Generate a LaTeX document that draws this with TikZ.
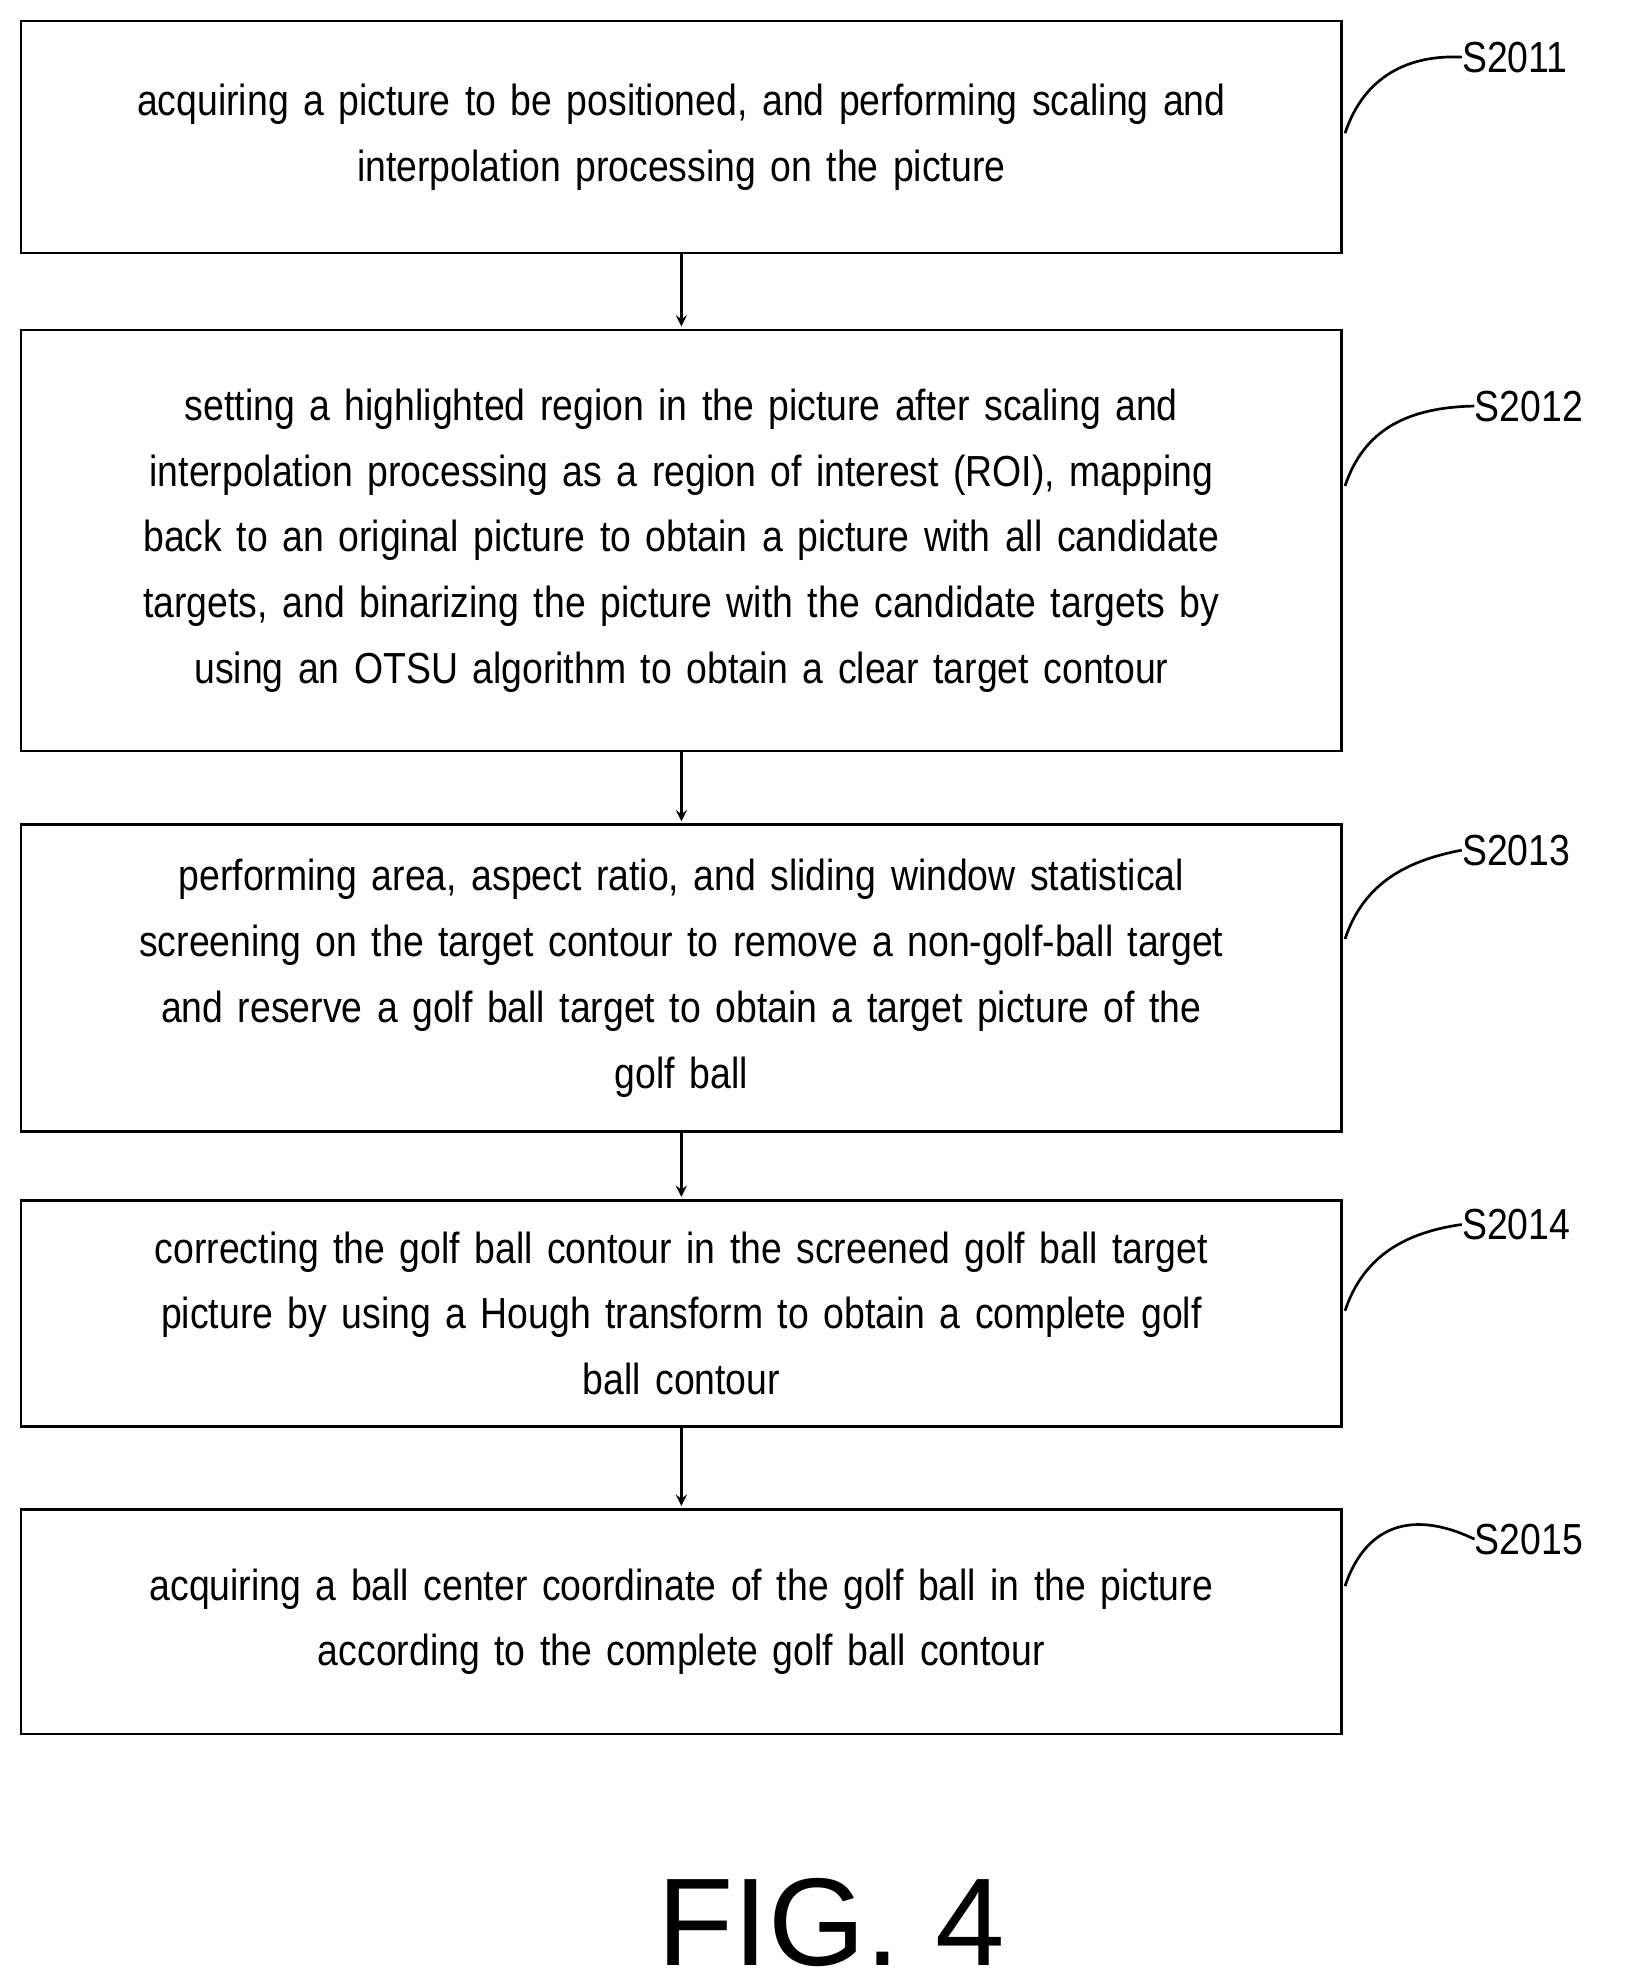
\documentclass[tikz,border=0pt]{standalone}
\usepackage{fontspec}
\setmainfont{Liberation Sans}
\newfontfamily\narrowfont[FakeStretch=0.86]{Liberation Sans}
\usetikzlibrary{positioning}
\begin{document}
\begin{tikzpicture}[x=0.02cm, y=-0.02cm, >=stealth]
    \tikzstyle{stepbox} = [draw, line width=1.2pt, minimum width=20.82cm, text width=20.6cm, align=center, font=\narrowfont\fontsize{19.5}{29.5}\selectfont, inner sep=0pt]
    \tikzstyle{tag} = [anchor=west, font=\narrowfont\fontsize{19.5}{24}\selectfont, inner sep=0pt]
    \tikzstyle{flow} = [->, line width=1.2pt, shorten >=1pt]
    \useasboundingbox (0,0) rectangle (1280,1562);

    \node[stepbox, minimum height=3.66cm] (s1) at (537,108) {acquiring a picture to be positioned, and performing scaling and\\ interpolation processing on the picture};
    \node[stepbox, minimum height=6.64cm] (s2) at (537,426) {setting a highlighted region in the picture after scaling and\\ interpolation processing as a region of interest (ROI), mapping\\ back to an original picture to obtain a picture with all candidate\\ targets, and binarizing the picture with the candidate targets by\\ using an OTSU algorithm to obtain a clear target contour\\[1.0cm]};
    \node[stepbox, minimum height=4.84cm] (s3) at (537,771) {performing area, aspect ratio, and sliding window statistical\\ screening on the target contour to remove a non-golf-ball target\\ and reserve a golf ball target to obtain a target picture of the\\ golf ball};
    \node[stepbox, minimum height=3.56cm] (s4) at (537,1035) {correcting the golf ball contour in the screened golf ball target\\ picture by using a Hough transform to obtain a complete golf\\ ball contour};
    \node[stepbox, minimum height=3.54cm] (s5) at (537,1278) {acquiring a ball center coordinate of the golf ball in the picture\\ according to the complete golf ball contour\\[0.5cm]};

    \draw[flow] (s1) -- (s2);
    \draw[flow] (s2) -- (s3);
    \draw[flow] (s3) -- (s4);
    \draw[flow] (s4) -- (s5);

    % step numbers
    \node[tag] (t1) at (1152,45) {S2011};
    \node[tag] (t2) at (1162,320) {S2012};
    \node[tag] (t3) at (1152,670) {S2013};
    \node[tag] (t4) at (1152,965) {S2014};
    \node[tag] (t5) at (1162,1213) {S2015};
    \foreach \i/\y in {1/105, 2/383, 3/740, 4/1033, 5/1250}
        \draw[line width=1.2pt] (1060,\y) .. controls (1075,\y-45) and (1110,\y-62) .. (t\i.west);

    \node[font=\fontsize{56}{60}\selectfont] (fig) at (655,1515) {FIG. 4};
\end{tikzpicture}
\end{document}
